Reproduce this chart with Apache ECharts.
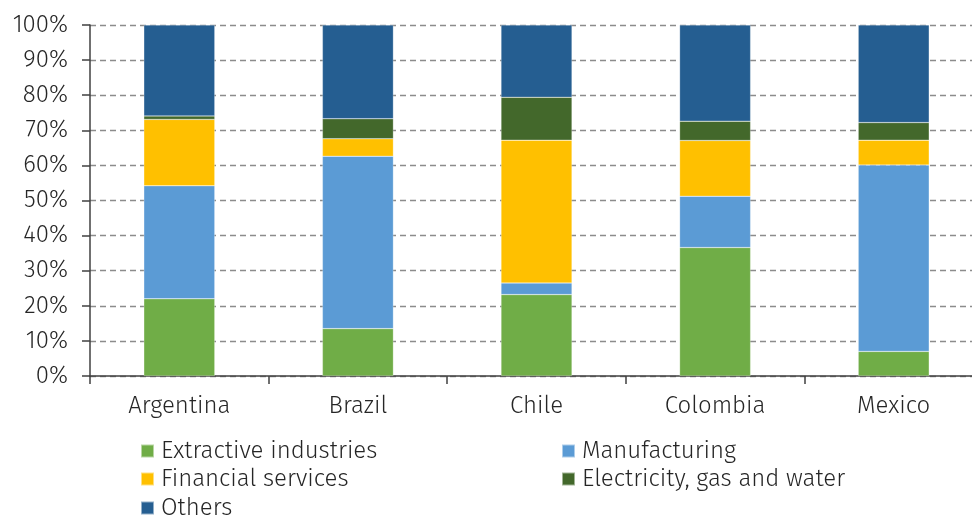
<!DOCTYPE html>
<html>
<head>
<meta charset="utf-8">
<script src="https://cdn.jsdelivr.net/npm/echarts@6/dist/echarts.min.js"></script>
<style>
  html, body { margin: 0; padding: 0; background: #fff; }
  #chart { width: 972px; height: 515px; }
</style>
</head>
<body>
<div id="chart"></div>
<script>
// Sector shares of each country, in percent
const countries = ['Argentina', 'Brazil', 'Chile', 'Colombia', 'Mexico'];
const extractive = [22.0, 13.5, 23.2, 36.6, 7.0];
const manufacturing = [32.2, 49.1, 3.3, 14.6, 53.1];
const financial = [18.9, 5.0, 40.7, 15.9, 7.1];
const electricity = [1.0, 5.7, 12.2, 5.5, 5.0];
const others = [25.9, 26.7, 20.6, 27.4, 27.8];
const yTicks = [0, 10, 20, 30, 40, 50, 60, 70, 80, 90, 100];

const seriesDefs = [
  { name: 'Extractive industries', data: extractive, color: '#70AD47' },
  { name: 'Manufacturing', data: manufacturing, color: '#5B9BD5' },
  { name: 'Financial services', data: financial, color: '#FFC000' },
  { name: 'Electricity, gas and water', data: electricity, color: '#43682B' },
  { name: 'Others', data: others, color: '#255E91' }
];

// Legend slots: two columns, three rows
const legendSlots = [
  { name: 'Extractive industries', left: 140, top: 439 },
  { name: 'Manufacturing', left: 561, top: 439 },
  { name: 'Financial services', left: 140, top: 467 },
  { name: 'Electricity, gas and water', left: 561, top: 467 },
  { name: 'Others', left: 140, top: 496 }
];

const fontFamily = '"Fira Sans", "Open Sans", "Noto Sans", sans-serif';
const baseText = { fontSize: 24, color: '#262626', fontFamily: fontFamily, fontWeight: 300 };

const chart = echarts.init(document.getElementById('chart'));
chart.setOption({
  animation: false,
  grid: { left: 90, top: 25, width: 893, height: 351, outerBoundsMode: 'none', containLabel: false },
  legend: legendSlots.map(slot => ({
    data: [slot.name],
    left: slot.left, top: slot.top,
    itemWidth: 13, itemHeight: 13, itemGap: 5, icon: 'rect',
    padding: 0,
    textStyle: Object.assign({ padding: [0, 0, 0, 2] }, baseText)
  })),
  xAxis: {
    type: 'category',
    data: countries,
    axisLine: { lineStyle: { color: '#404040', width: 1.5 } },
    axisTick: { show: true, length: 8, lineStyle: { color: '#404040', width: 1.5 } },
    axisLabel: Object.assign({ margin: 18 }, baseText)
  },
  yAxis: {
    type: 'value',
    min: yTicks[0],
    max: yTicks[yTicks.length - 1],
    interval: 10,
    axisLine: { show: true, lineStyle: { color: '#404040', width: 1.5 } },
    axisTick: { show: true, length: 8, lineStyle: { color: '#404040', width: 1.5 } },
    axisLabel: Object.assign({ margin: 22, formatter: v => v + '%' }, baseText),
    splitLine: { show: true, lineStyle: { color: '#8c8c8c', type: [6, 4], width: 1.3 } }
  },
  series: seriesDefs.map(s => ({
    name: s.name,
    type: 'bar',
    stack: 'total',
    barWidth: 71,
    data: s.data,
    itemStyle: { color: s.color, borderColor: 'rgba(255,255,255,0.5)', borderWidth: 0.5 }
  }))
});
</script>
</body>
</html>
